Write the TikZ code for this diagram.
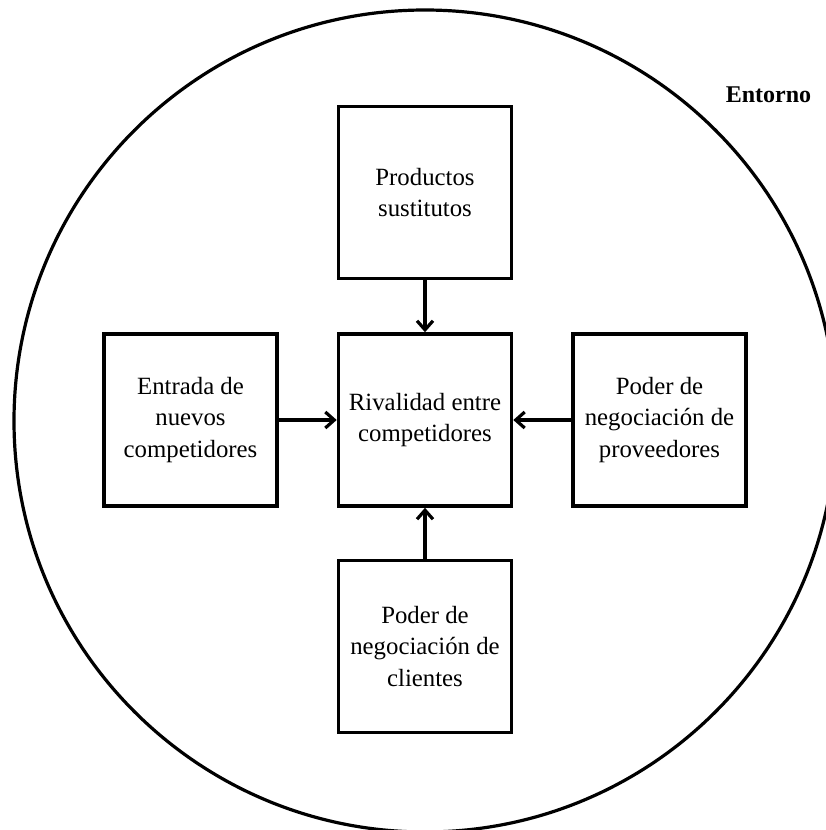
\documentclass[tikz,border=0pt]{standalone}
\usepackage{fontspec}
\setmainfont{Liberation Serif}
\usetikzlibrary{arrows.meta}
\begin{document}
\begin{tikzpicture}[x=1pt,y=-1pt,
  box/.style={draw,line width=3.6pt,minimum width=173pt,minimum height=172pt,align=center,inner sep=0pt,
    font=\fontsize{24.8}{31.6}\selectfont},
  conn/.style={line width=3.2pt,-{Straight Barb[length=9pt,width=16pt,line width=3.2pt]}}]
\useasboundingbox (0,0) rectangle (826,830);
\clip (0,0) rectangle (826,830);
\fill[white] (0,0) rectangle (826,830);
\draw[line width=3.2pt] (425,421) circle (411);
\node[font=\bfseries\fontsize{24}{28}\selectfont] (ent) at (768.5,95) {Entorno};
\node[box] (mid) at (425,420) {Rivalidad entre\\competidores};
\node[box] (top) at (425,192.5) {Productos\\sustitutos};
\node[box] (bot) at (425,646.5) {Poder de\\negociación de\\clientes};
\node[box] (lft) at (190.5,420) {Entrada de\\nuevos\\competidores};
\node[box] (rgt) at (659.5,420) {Poder de\\negociación de\\proveedores};
\draw[conn] (top) -- (mid);
\draw[conn] (bot) -- (mid);
\draw[conn] (lft) -- (mid);
\draw[conn] (rgt) -- (mid);
\end{tikzpicture}
\end{document}
